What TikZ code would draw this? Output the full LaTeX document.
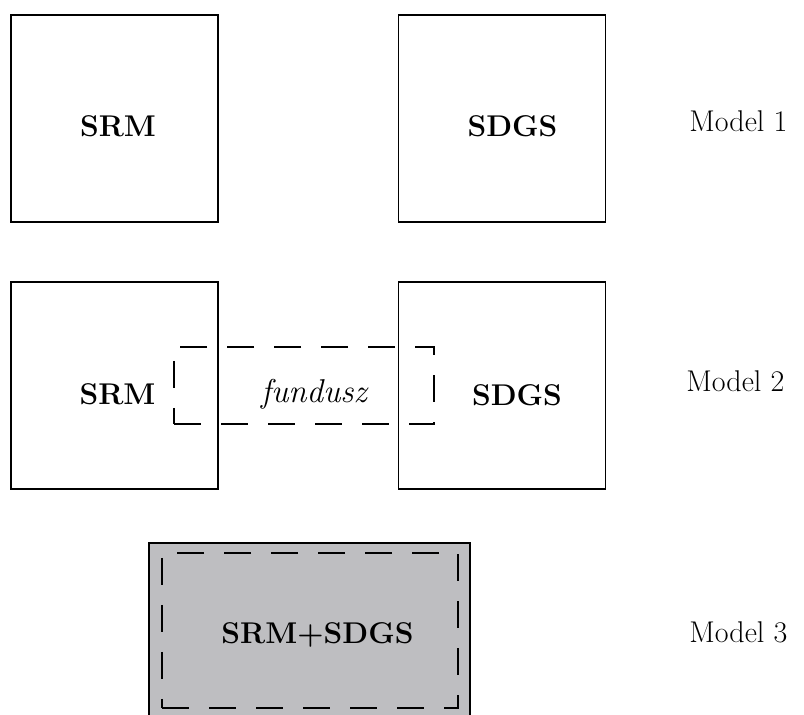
\documentclass[tikz,border=0pt]{standalone}
\usepackage{tikz}
\usetikzlibrary{positioning}
\definecolor{mergefill}{RGB}{190,190,193}
\tikzset{
  box/.style={draw, line width=0.6pt, minimum width=103.5pt, minimum height=103.5pt, inner sep=0pt},
  fundbox/.style={draw, line width=0.55pt, dash pattern=on 13.5pt off 10pt, inner sep=0pt},
  mergebox/.style={draw, fill=mergefill, line width=1.1pt, inner sep=0pt}, % joined model
  tag/.style={font=\fontsize{15}{18}\selectfont\bfseries, anchor=base, inner sep=0pt},
  modelname/.style={font=\fontsize{15}{18}\selectfont, anchor=base west, inner sep=0pt}
}

\begin{document}
\begin{tikzpicture}[x=0.5pt,y=-0.5pt]
  \useasboundingbox (0,0) rectangle (804,715);

  % Model 1
  \node[box] (srmA) at (114.5,118.5) {};
  \node[box] (sdgsA) at (502,118.5) {};
  \node[tag] (srmAt) at (118,137) {SRM};
  \node[tag] (sdgsAt) at (512.5,137) {SDGS};
  \node[modelname] (mA) at (689,132) {Model 1};

  % Model 2
  \node[box] (srmB) at (114.5,385.5) {};
  \node[box] (sdgsB) at (502,385.5) {};
  \node[fundbox, minimum width=130pt, minimum height=38.5pt] (fund) at (304,385.5) {};
  \node[tag] (srmBt) at (117.5,405) {SRM};
  \node[tag] (sdgsBt) at (517,406) {SDGS};
  \node[anchor=base, inner sep=0pt, font=\fontsize{16.5}{19}\selectfont\itshape] (fundt) at (314,403) {fundusz};
  \node[modelname] (mB) at (686,392) {Model 2};

  % Model 3
  \node[mergebox, minimum width=160.5pt, minimum height=98.5pt] (merged) at (309.5,641.5) {};
  \node[fundbox, minimum width=148pt, minimum height=77.5pt] (mergedIn) at (310,630.5) {};
  \node[tag] (mergedt) at (317.5,644) {SRM+SDGS};
  \node[modelname] (mC) at (689,643) {Model 3};
\end{tikzpicture}
\end{document}
